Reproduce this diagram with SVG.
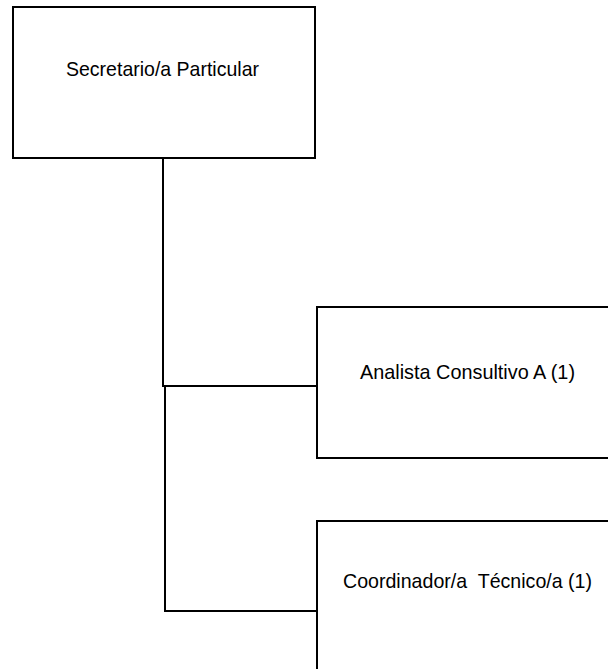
<svg xmlns="http://www.w3.org/2000/svg" width="608" height="669" viewBox="0 0 608 669">
  <style>
    .box { fill: #ffffff; stroke: #000000; stroke-width: 2; }
    .lbl { font-family: "Liberation Sans", Arial, sans-serif; font-size: 21px; fill: #000000; white-space: pre; }
    .link { fill: none; stroke: #000000; stroke-width: 2; }
  </style>
  <rect width="608" height="669" fill="#ffffff"/>

  <!-- connectors from the top position to its two reports -->
  <g id="connectors">
    <path class="link" d="M163 158 V386 H317"/>
    <path class="link" d="M165 385 V611 H317"/>
  </g>

  <g id="secretario">
    <rect class="box" x="13" y="7" width="302" height="151"/>
    <text class="lbl" x="66" y="76" textLength="193" lengthAdjust="spacingAndGlyphs">Secretario/a Particular</text>
  </g>

  <g id="analista">
    <rect class="box" x="317" y="307" width="303" height="151"/>
    <text class="lbl" x="360" y="379" textLength="215" lengthAdjust="spacingAndGlyphs">Analista Consultivo A (1)</text>
  </g>

  <g id="coordinador">
    <rect class="box" x="317" y="521" width="303" height="160"/>
    <text class="lbl" x="343" y="588" textLength="249" lengthAdjust="spacingAndGlyphs" xml:space="preserve">Coordinador/a  Técnico/a (1)</text>
  </g>
</svg>
